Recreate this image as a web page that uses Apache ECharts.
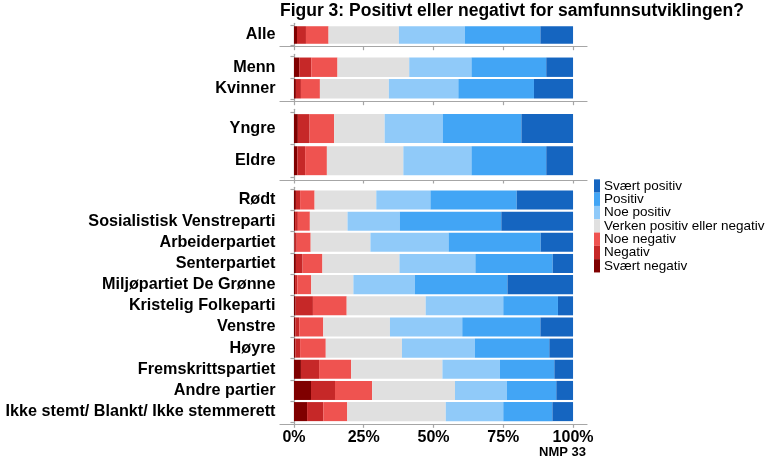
<!DOCTYPE html>
<html>
<head>
<meta charset="utf-8">
<script src="https://cdn.jsdelivr.net/npm/echarts@6/dist/echarts.min.js"></script>
<style>
html,body{margin:0;padding:0;background:#fff;}
#chart{width:770px;height:461px;}
</style>
</head>
<body>
<div id="chart"></div>
<script>
// Categories (top to bottom), grouped into panels
const categories = ["Alle","Menn","Kvinner","Yngre","Eldre","Rødt","Sosialistisk Venstreparti","Arbeiderpartiet","Senterpartiet","Miljøpartiet De Grønne","Kristelig Folkeparti","Venstre","Høyre","Fremskrittspartiet","Andre partier","Ikke stemt/ Blankt/ Ikke stemmerett"];
const panelSizes = [1, 2, 2, 11];

// Response levels (legend order, top to bottom)
const levels = ["Svært positiv","Positiv","Noe positiv","Verken positiv eller negativ","Noe negativ","Negativ","Svært negativ"];

// Shares in percent, one value per category
const svaertNegativ = [1.1, 1.9, 0.7, 1.4, 1.2, 0.7, 0.4, 0.2, 0.7, 0.4, 0.6, 0.5, 0.5, 2.5, 6.1, 4.7];
const negativ       = [3.2, 4.3, 1.8, 4.2, 2.8, 1.5, 1.0, 0.8, 2.4, 0.8, 6.2, 1.4, 1.7, 6.5, 8.6, 5.8];
const noeNegativ    = [8.1, 9.4, 6.8, 8.8, 7.8, 5.2, 4.3, 5.0, 7.1, 5.0, 12.1, 8.6, 9.2, 11.5, 13.3, 8.6];
const verken        = [25.2, 25.7, 24.7, 18.1, 27.4, 22.1, 13.5, 21.4, 27.6, 15.1, 28.3, 23.9, 27.3, 32.7, 29.7, 35.3];
const noePositiv    = [23.6, 22.3, 24.9, 20.8, 24.4, 19.4, 18.7, 28.0, 27.2, 22.0, 27.8, 25.9, 26.1, 20.6, 18.6, 20.6];
const positiv       = [27.1, 26.8, 27.1, 28.2, 26.8, 30.9, 36.4, 33.0, 27.7, 33.2, 19.6, 28.0, 26.7, 19.5, 17.7, 17.6];
const svaertPositiv = [11.7, 9.6, 14.0, 18.5, 9.6, 20.2, 25.7, 11.6, 7.3, 23.5, 5.4, 11.7, 8.5, 6.7, 6.0, 7.4];

const xTicks = [0, 25, 50, 75, 100];

const colors = {
  "Svært negativ": "#7f0000",
  "Negativ": "#c62828",
  "Noe negativ": "#ef5350",
  "Verken positiv eller negativ": "#e0e0e0",
  "Noe positiv": "#90caf9",
  "Positiv": "#42a5f5",
  "Svært positiv": "#1565c0"
};
const stackOrder = [
  ["Svært negativ", svaertNegativ],
  ["Negativ", negativ],
  ["Noe negativ", noeNegativ],
  ["Verken positiv eller negativ", verken],
  ["Noe positiv", noePositiv],
  ["Positiv", positiv],
  ["Svært positiv", svaertPositiv]
];

// Layout (pixels)
const L = 280, W = 307;
const frames = [[23.3, 23.4], [54.3, 47.4], [109.3, 70.7], [187.3, 237]];
const FONT = "'Liberation Sans', Arial, sans-serif";
const axisGray = "#a6a6a6";

const grids = [], xAxes = [], yAxes = [], series = [];
let start = 0;
frames.forEach((f, p) => {
  const n = panelSizes[p];
  const unit = f[1] / (n + 0.2);
  const cats = categories.slice(start, start + n);
  // frame grid
  grids.push({left: L, width: W, top: f[0], height: f[1]});
  const fi = grids.length - 1;
  xAxes.push({
    type: 'value', gridIndex: fi, min: -5, max: 105,
    splitLine: {show: false},
    axisLine: {show: true, lineStyle: {color: axisGray, width: 1.2}},
    axisTick: {show: true, customValues: xTicks, length: 3.5, lineStyle: {color: axisGray, width: 1.2}},
    axisLabel: {show: p === 3, customValues: xTicks, formatter: '{value}%', margin: 5,
      fontFamily: FONT, fontWeight: 'bold', fontSize: 16, color: '#000'}
  });
  yAxes.push({
    type: 'value', gridIndex: fi, min: 0, max: 1,
    splitLine: {show: false},
    axisLine: {show: true, lineStyle: {color: axisGray, width: 1.2}},
    axisTick: {show: false}, axisLabel: {show: false}
  });
  // bar grid
  grids.push({left: L, width: W, top: f[0] + 0.1 * unit, height: n * unit});
  const bi = grids.length - 1;
  xAxes.push({type: 'value', gridIndex: bi, min: -5, max: 105, show: false});
  yAxes.push({
    type: 'category', gridIndex: bi, data: cats, inverse: true,
    axisLine: {show: false},
    axisTick: {show: true, length: 3.5, lineStyle: {color: axisGray, width: 1.2}},
    axisLabel: {margin: 4.5, fontFamily: FONT, fontWeight: 'bold', fontSize: 16.2, color: '#000'}
  });
  stackOrder.forEach(([name, arr]) => {
    series.push({
      type: 'bar', name: name, xAxisIndex: bi, yAxisIndex: bi,
      stack: 'p' + p, barCategoryGap: '10%',
      itemStyle: {color: colors[name]},
      emphasis: {disabled: true},
      data: arr.slice(start, start + n)
    });
  });
  start += n;
});

const chart = echarts.init(document.getElementById('chart'), null, {renderer: 'canvas'});
chart.setOption({
  animation: false,
  backgroundColor: '#fff',
  title: {
    text: 'Figur 3: Positivt eller negativt for samfunnsutviklingen?',
    left: 280, top: 2, padding: 0,
    textStyle: {fontFamily: FONT, fontWeight: 'bold', fontSize: 17.5, color: '#000'}
  },
  legend: {
    orient: 'vertical', left: 594, top: 179, padding: 0,
    itemWidth: 6, itemHeight: 13.3, itemGap: -0.7, icon: 'rect',
    selectedMode: false,
    data: levels,
    textStyle: {fontFamily: FONT, fontSize: 13.5, color: '#000', lineHeight: 12.9, padding: [0, 0, 0, -1]}
  },
  graphic: [{
    type: 'text', right: 770 - 586, top: 446,
    style: {text: 'NMP 33', font: "bold 13px 'Liberation Sans', Arial, sans-serif", fill: '#000'}
  }],
  grid: grids, xAxis: xAxes, yAxis: yAxes, series: series
});
</script>
</body>
</html>
